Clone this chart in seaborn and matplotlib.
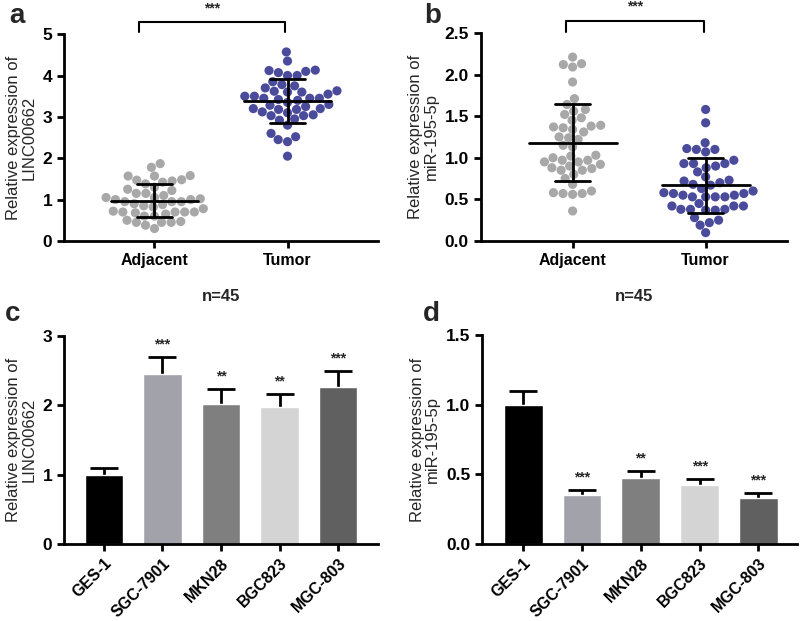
import seaborn as sns
import matplotlib.pyplot as plt
import numpy as np
import pandas as pd

# dati
groups = ['Adjacent', 'Tumor']

linc_adjacent = [1.87, 1.78, 1.47, 1.45, 1.57, 1.57, 1.58, 1.42, 1.48, 1.38,
                 1.22, 1.25, 1.10, 1.15, 1.30, 1.02, 1.05, 0.90, 0.95, 1.00,
                 1.05, 0.95, 0.95, 1.00, 0.88, 0.82, 0.78, 0.70, 0.70, 0.65,
                 0.70, 0.72, 0.68, 0.70, 0.85, 0.45, 0.45, 0.45, 0.47, 0.38,
                 0.50, 0.30, 0.60, 0.60, 1.15]
linc_tumor = [4.57, 4.35, 4.13, 4.12, 4.07, 4.10, 4.00, 4.00, 3.78, 3.75,
              3.85, 3.63, 3.60, 3.55, 3.62, 3.60, 3.42, 3.45, 3.40, 3.45,
              3.50, 3.45, 3.50, 3.35, 3.30, 3.28, 3.20, 3.20, 3.18, 3.12,
              3.25, 3.18, 3.10, 3.03, 3.03, 3.05, 2.95, 2.92, 2.80, 2.60,
              2.52, 2.45, 2.40, 2.05, 3.70]

mir_adjacent = [2.21, 2.13, 2.12, 2.09, 1.91, 1.71, 1.64, 1.56, 1.58, 1.52,
                1.48, 1.45, 1.38, 1.34, 1.39, 1.37, 1.31, 1.36, 1.24, 1.15,
                1.25, 1.13, 0.95, 0.92, 0.88, 0.97, 1.03, 1.02, 1.00, 0.90,
                0.87, 0.97, 0.85, 0.85, 0.80, 0.75, 0.68, 0.58, 0.57, 0.57,
                0.60, 0.56, 0.36, 0.95, 1.22]
mir_tumor = [1.58, 1.42, 1.18, 1.10, 1.10, 1.11, 1.07, 0.97, 0.93, 0.90,
             0.88, 0.93, 0.93, 0.83, 0.77, 0.73, 0.68, 0.70, 0.72, 0.63,
             0.67, 0.60, 0.57, 0.58, 0.57, 0.55, 0.53, 0.53, 0.53, 0.53,
             0.55, 0.45, 0.42, 0.42, 0.42, 0.38, 0.38, 0.38, 0.37, 0.37,
             0.28, 0.25, 0.22, 0.19, 0.10]

cell_lines = ['GES-1', 'SGC-7901', 'MKN28', 'BGC823', 'MGC-803']
linc_cells = [1.00, 2.45, 2.02, 1.97, 2.26]
linc_cells_top = [1.10, 2.69, 2.23, 2.17, 2.49]
linc_stars = ['', '***', '**', '**', '***']
mir_cells = [1.00, 0.353, 0.473, 0.42, 0.327]
mir_cells_top = [1.10, 0.39, 0.525, 0.466, 0.365]
mir_stars = ['', '***', '**', '***', '***']

sns.set_style('ticks')
plt.rcParams['font.family'] = ['Liberation Sans', 'DejaVu Sans']
plt.rcParams['font.weight'] = 'bold'

dot_colors = {'Adjacent': '#a8a8a8', 'Tumor': '#4b4b9b'}
bar_colors = ['#000000', '#a2a2aa', '#7f7f7f', '#d4d4d4', '#606060']


def stile_assi(ax):
	for s in ['top', 'right']:
		ax.spines[s].set_visible(False)
	for s in ['left', 'bottom']:
		ax.spines[s].set_linewidth(2)
		ax.spines[s].set_color('black')
	ax.tick_params(width=2, length=5, labelsize=11.5, colors='black')
	ax.tick_params(axis='y', labelsize=12.5)
	for label in (ax.get_xticklabels() + ax.get_yticklabels()):
		label.set_fontweight('bold')


def scatter_panel(ax, adj, tum, ylim, yticks, fmt, ylabel, bracket):
	df = pd.DataFrame({'group': ['Adjacent'] * len(adj) + ['Tumor'] * len(tum),
					   'value': adj + tum})
	sns.swarmplot(data=df, x='group', y='value', hue='group', order=groups,
				  palette=dot_colors, size=6.6, ax=ax, legend=False, zorder=2)
	# media +- deviazione standard
	for i, vals in enumerate([adj, tum]):
		m = np.mean(vals)
		sd = np.std(vals, ddof=1)
		ax.plot([i - 0.33, i + 0.33], [m, m], color='black', lw=2, zorder=3)
		ax.plot([i - 0.13, i + 0.13], [m + sd, m + sd], color='black', lw=2, zorder=3)
		ax.plot([i - 0.13, i + 0.13], [m - sd, m - sd], color='black', lw=2, zorder=3)
		ax.plot([i, i], [m - sd, m + sd], color='black', lw=2, zorder=3)
	ax.set_ylim(*ylim)
	ax.set_yticks(yticks)
	ax.set_yticklabels([fmt.format(t) for t in yticks])
	ax.set_xlabel('n=45', fontsize=12, fontweight='bold', labelpad=15)
	ax.set_ylabel(ylabel, fontsize=12, fontweight='normal', linespacing=1.05)
	x0, x1, yb, yt, ys = bracket
	ax.plot([x0, x0, x1, x1], [yt, yb, yb, yt], color='black', lw=1.5, clip_on=False)
	ax.text((x0 + x1) / 2, ys, '***', ha='center', va='center', fontsize=10, clip_on=False)
	stile_assi(ax)


def bar_panel(ax, vals, tops, stars, ylim, yticks, fmt, ylabel, off):
	sns.barplot(x=cell_lines, y=vals, hue=cell_lines, palette=bar_colors,
				width=0.66, ax=ax, legend=False, zorder=2, saturation=1)
	err = [t - v for t, v in zip(tops, vals)]
	eb = ax.errorbar(range(len(cell_lines)), vals, yerr=[np.zeros(len(vals)), err],
					 fmt='none', ecolor='black', elinewidth=2, capsize=10, capthick=2, zorder=1)
	eb[1][0].set_visible(False)  # solo la barra superiore
	for i, s in enumerate(stars):
		if s:
			ax.text(i, tops[i] + off, s, ha='center', va='bottom', fontsize=10)
	ax.set_ylim(*ylim)
	ax.set_yticks(yticks)
	ax.set_yticklabels([fmt.format(t) for t in yticks])
	ax.set_ylabel(ylabel, fontsize=12, fontweight='normal', linespacing=1.05)
	stile_assi(ax)
	plt.setp(ax.get_xticklabels(), rotation=45, ha='right', rotation_mode='anchor')


fig = plt.figure(figsize=(8, 6.21), dpi=100)
ax_a = fig.add_axes([0.080, 0.612, 0.3925, 0.333])
ax_b = fig.add_axes([0.601, 0.612, 0.3825, 0.335])
ax_c = fig.add_axes([0.080, 0.124, 0.3925, 0.335])
ax_d = fig.add_axes([0.6025, 0.124, 0.394, 0.3365])

scatter_panel(ax_a, linc_adjacent, linc_tumor, (0, 5), [0, 1, 2, 3, 4, 5], '{:g}',
			  'Relative expression of\nLINC00662', (-0.12, 0.98, 5.29, 5.05, 5.62))
ax_a.set_xlim(-0.68, 1.68)
scatter_panel(ax_b, mir_adjacent, mir_tumor, (0, 2.5), [0, 0.5, 1.0, 1.5, 2.0, 2.5], '{:.1f}',
			  'Relative expression of\nmiR-195-5p', (-0.05, 0.99, 2.64, 2.51, 2.82))
ax_b.set_xlim(-0.69, 1.61)

bar_panel(ax_c, linc_cells, linc_cells_top, linc_stars, (0, 3), [0, 1, 2, 3], '{:g}',
		  'Relative expression of\nLINC00662', 0.08)
ax_c.set_xlim(-0.68, 4.68)
bar_panel(ax_d, mir_cells, mir_cells_top, mir_stars, (0, 1.5), [0, 0.5, 1.0, 1.5], '{:.1f}',
		  'Relative expression of\nmiR-195-5p', 0.04)
ax_d.set_xlim(-0.70, 4.66)

for lettera, x, y in [('a', 0.012, 0.975), ('b', 0.53, 0.975), ('c', 0.006, 0.495), ('d', 0.528, 0.495)]:
	fig.text(x, y, lettera, fontsize=20, fontweight='bold', va='center')

fig.savefig('out.png', dpi=100)
